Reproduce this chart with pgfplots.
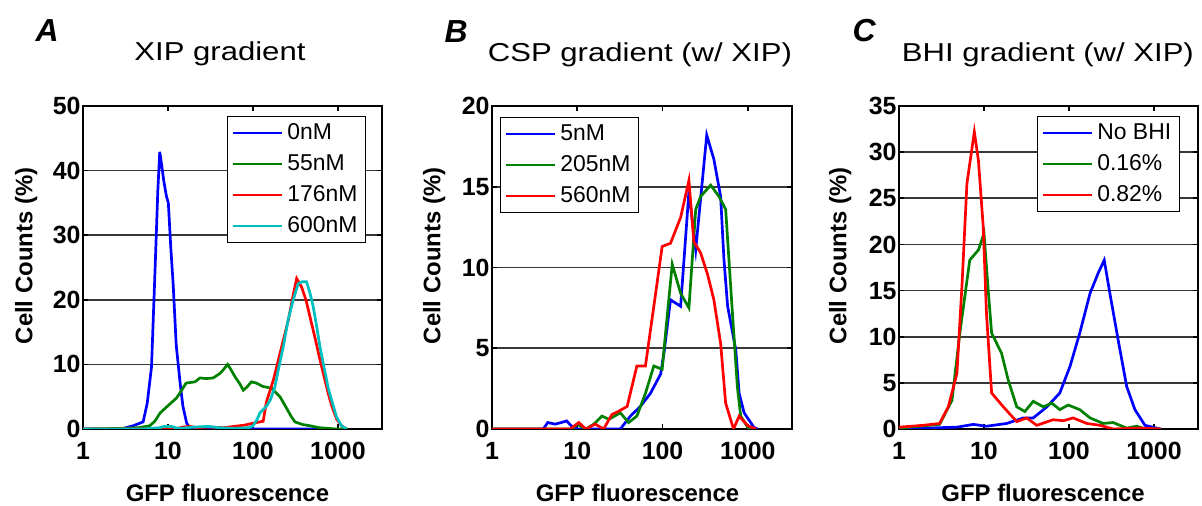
\documentclass[border=0pt]{standalone}
\usepackage{fontspec}
\setmainfont{Liberation Sans}
\newfontfamily\titlefont[FakeStretch=1.2]{Liberation Sans}
\usepackage{pgfplots}
\pgfplotsset{compat=1.18}

\definecolor{mblue}{RGB}{0,0,255}
\definecolor{mgreen}{RGB}{0,128,0}
\definecolor{mred}{RGB}{255,0,0}
\definecolor{mcyan}{RGB}{0,191,191}

% shared look of the three panels
\pgfplotsset{
  scale only axis, width=299bp, height=323bp,
  xmin=1, xmax=3300,
  xtick={1,10,100,1000}, xticklabels={1,10,100,1000},
  xminorticks=false,
  ymin=0,
  ymajorgrids, major grid style={draw=black!78, line width=1.6bp},
  axis line style={line width=2.5bp},
  tick align=inside, major tick length=5bp,
  tick style={black, line width=1.6bp},
  ticklabel style={font=\bfseries\fontsize{25}{25}\selectfont},
  /pgf/number format/assume math mode=true,
  xticklabel style={yshift=-10bp},
  yticklabel style={xshift=1bp},
  label style={font=\bfseries\fontsize{24}{24}\selectfont},
  title style={anchor=base, font=\titlefont\fontsize{26}{26}\selectfont},
  every axis plot/.append style={line width=2.7bp, no marks},
  legend style={anchor=north west, draw=black, line width=1bp, fill=white,
    font=\fontsize{23}{23}\selectfont,
    inner xsep=4bp, inner ysep=5bp, row sep=8bp,
    nodes={inner xsep=4bp, inner ysep=1bp, text height=17bp, text depth=4bp}},
  legend image code/.code={\draw[#1] (0bp,0bp) -- (49bp,0bp);},
  legend cell align=left,
}

\begin{document}
\begin{tikzpicture}
\useasboundingbox (0,0) rectangle (1202bp,506bp);

% panel A
\begin{axis}[xmode=log, at={(83bp,77bp)}, anchor=south west,
  ymax=50, ytick={0,10,...,50},
  title={XIP gradient}, title style={at={(axis description cs:0.458,1.122)}},
  xlabel={GFP fluorescence}, ylabel={Cell Counts (\%)},
  xlabel style={at={(axis description cs:0.483,-0.223)}, anchor=base},
  ylabel style={at={(axis description cs:-0.19,0.536)}, anchor=center},
  legend style={at={(0.482,0.969)}},
]
\addplot[mblue] coordinates {(1,0)(2,0)(3,0.1)(3.9,0.5)(5.1,1.1)(5.7,4)(6.4,9.6)(7.0,23.6)(7.6,37)(8.0,42.9)(8.4,41)(8.9,38.5)(9.6,36)(10.1,35)(10.8,28)(11.5,22.5)(12.5,13)(13.9,7.1)(15,3.5)(16.6,0.9)(18,0.2)(25,0)(600,0)};
\addlegendentry{0nM}
\addplot[mgreen] coordinates {(1,0)(3,0.1)(4.5,0.2)(6.1,0.5)(7,1.2)(8.1,2.5)(10,3.6)(12.6,4.8)(14.5,6)(16.3,7.1)(20.8,7.3)(23.8,7.9)(28,7.8)(34,7.9)(40.9,8.6)(45,9.2)(50.4,10)(55,9.2)(61.4,8.1)(70,7)(77,6)(85,6.5)(96,7.3)(110,7.1)(130,6.6)(166,6.3)(208,5)(249,3.2)(280,2)(312,1.1)(380,0.7)(468,0.5)(600,0.2)(960,0)(1300,0)};
\addlegendentry{55nM}
\addplot[mred] coordinates {(1,0)(8,0)(12,0)(15,0.3)(18,0.4)(22,0.2)(30,0.3)(45,0.2)(60,0.4)(80,0.6)(100,0.9)(132,1.2)(144,4.2)(174,7.6)(208,11.7)(261,16.9)(300,21)(327,23.3)(373,22)(420,20)(468,17.4)(540,14)(615,10.7)(769,5.5)(850,3.5)(960,1.6)(1100,0.5)(1260,0)};
\addlegendentry{176nM}
\addplot[mcyan] coordinates {(1,0)(5,0)(8,0.2)(9,0.4)(11,0.4)(13,0.1)(17,0.2)(20,0.3)(30,0.4)(40,0.2)(60,0.1)(90,0.2)(100,0.5)(110,1.3)(121,2.5)(144,3.5)(160,4.5)(181,6.5)(205,10)(227,12.7)(260,17)(298,20)(341,22.5)(380,22.8)(427,22.8)(470,21)(512,18.9)(560,16)(615,12.7)(769,6.3)(960,1.9)(1100,0.5)(1260,0)};
\addlegendentry{600nM}
\end{axis}

% panel B
\begin{axis}[xmode=log, at={(492bp,77bp)}, anchor=south west, width=300bp,
  ymax=20, ytick={0,5,...,20},
  title={CSP gradient (w/ XIP)}, title style={at={(axis description cs:0.493,1.118)}},
  xlabel={GFP fluorescence}, ylabel={Cell Counts (\%)},
  xlabel style={at={(axis description cs:0.485,-0.223)}, anchor=base},
  ylabel style={at={(axis description cs:-0.193,0.536)}, anchor=center},
  legend style={at={(0.027,0.966)}},
]
\addplot[mblue] coordinates {(1,0)(4,0)(4.5,0.4)(5.5,0.3)(6.5,0.4)(7.5,0.5)(8.5,0.2)(10,0)(32,0)(42,0.8)(55,1.4)(72,2.2)(95,3.4)(104,4.7)(124,8)(142,7.8)(163,7.6)(204,14.7)(245,11.1)(330,18.2)(400,16.7)(480,14.4)(525,10.5)(580,7.6)(723,4.9)(792,2.2)(906,1)(1180,0.1)(1300,0)};
\addlegendentry{5nM}
\addplot[mgreen] coordinates {(1,0)(8.7,0)(10,0.3)(12.6,0)(15.6,0.3)(19.5,0.8)(23.5,0.6)(32,1.0)(40,0.4)(50,0.8)(63,2.2)(79,3.9)(99,3.7)(112,6.7)(130,10.2)(163,8.4)(204,7.5)(245,13.6)(280,14.4)(367,15.1)(459,14.4)(550,13.6)(660,7.2)(755,2.6)(826,0.8)(1000,0.1)(1200,0)};
\addlegendentry{205nM}
\addplot[mred] coordinates {(1,0)(8.3,0)(10.4,0.4)(12.6,0)(16.3,0.3)(20.4,0)(25.5,0.9)(30.6,1.1)(38.5,1.4)(50,3.9)(63,3.9)(83,8.4)(99,11.3)(124,11.5)(163,13.1)(204,15.4)(233,11.6)(280,10.9)(336,9.6)(400,8.0)(480,5.3)(550,1.6)(680,0)(792,0.8)(1000,0.2)(1250,0)};
\addlegendentry{560nM}
\end{axis}

% panel C
\begin{axis}[xmode=log, at={(899bp,77bp)}, anchor=south west,
  ymax=35, ytick={0,5,...,35},
  title={BHI gradient (w/ XIP)}, title style={at={(axis description cs:0.498,1.118)}},
  xlabel={GFP fluorescence}, ylabel={Cell Counts (\%)},
  xlabel style={at={(axis description cs:0.482,-0.223)}, anchor=base},
  ylabel style={at={(axis description cs:-0.197,0.536)}, anchor=center},
  legend style={at={(0.462,0.969)}},
]
\addplot[mblue] coordinates {(1,0)(4.8,0.2)(7.5,0.5)(10.7,0.3)(18.5,0.6)(29,1.2)(38,1.2)(55,2.4)(78,3.9)(103,6.8)(134,10.4)(177,14.7)(221,16.9)(260,18.3)(303,14.7)(380,9.6)(478,4.6)(597,2.1)(784,0.4)(1070,0.1)(1200,0)};
\addlegendentry{No BHI}
\addplot[mgreen] coordinates {(1,0.1)(3.0,0.5)(4.2,3.1)(5.2,10.4)(6.8,18.3)(8.6,19.4)(10,21.2)(11.2,15.1)(12.3,10.4)(16.1,8.2)(19.3,5.3)(24.3,2.4)(30.3,1.9)(38,3.0)(50,2.4)(62.8,2.8)(78,2.1)(98,2.6)(134,2.1)(177,1.2)(253,0.6)(331,0.7)(478,0.1)(627,0.3)(800,0)(1200,0)};
\addlegendentry{0.16\%}
\addplot[mred] coordinates {(1,0.2)(1.93,0.4)(3.0,0.6)(3.8,2.4)(4.8,6.0)(5.5,15.4)(6.3,26.6)(7.7,32.2)(8.6,29.1)(9.8,21.9)(10.7,12.5)(12.3,3.9)(16.9,2.4)(24.3,0.8)(31.8,1.2)(41.7,0.4)(65,1.0)(86,0.9)(112,1.2)(162,0.6)(232,0.4)(331,0)(684,0.1)(1200,0)};
\addlegendentry{0.82\%}
\end{axis}

\node[anchor=base west, font=\bfseries\itshape\fontsize{32}{32}\selectfont] at (32bp,464bp) {A};
\node[anchor=base west, font=\bfseries\itshape\fontsize{32}{32}\selectfont] at (441bp,463bp) {B};
\node[anchor=base west, font=\bfseries\itshape\fontsize{32}{32}\selectfont] at (849bp,464bp) {C};
\end{tikzpicture}
\end{document}
